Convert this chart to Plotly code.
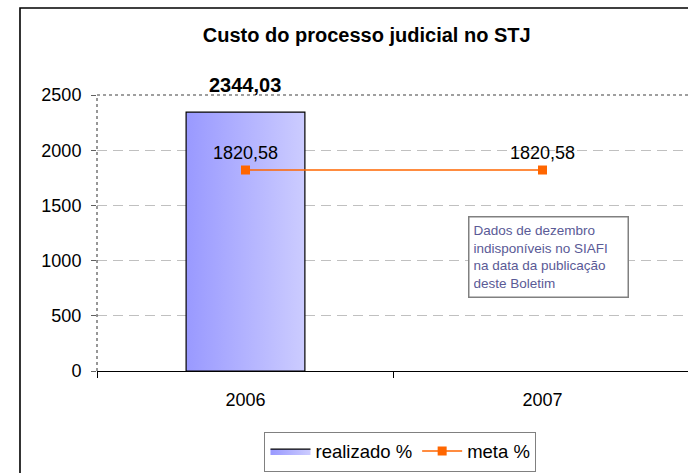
import plotly.graph_objects as go

years = ["2006", "2007"]
realizado = [2344.03, None]
meta = [1820.58, 1820.58]
y_ticks = [0, 500, 1000, 1500, 2000, 2500]

BAR_W = 0.4
FONT = "Liberation Sans, Arial, sans-serif"

def br(v):
    return f"{v:.2f}".replace(".", ",")

idx = list(range(len(years)))

# Bar polygons (gradient-filled), built from the data values
bx, by = [], []
for i, v in zip(idx, realizado):
    if v is None:
        continue
    x0, x1 = i - BAR_W / 2, i + BAR_W / 2
    bx += [x0, x0, x1, x1, x0, None]
    by += [0, v, v, 0, 0, None]

fig = go.Figure()
fig.add_trace(go.Scatter(
    x=bx, y=by, mode="lines", fill="toself", name="realizado %",
    line=dict(color="#000000", width=1.2),
    fillgradient=dict(type="horizontal", colorscale=[[0, "#9999ff"], [1, "#ccccff"]]),
    hoverinfo="skip",
))
fig.add_trace(go.Scatter(
    x=idx, y=meta, mode="lines+markers+text", name="meta %",
    line=dict(color="#ff6600", width=1.5),
    marker=dict(symbol="square", size=9, color="#ff6600"),
    text=[br(v) for v in meta], textposition="top center",
    textfont=dict(family=FONT, size=18, color="#000000"),
))

for i, v in zip(idx, realizado):
    if v is None:
        continue
    fig.add_annotation(x=i, y=v, text=f"<b>{br(v)}</b>", showarrow=False,
                       yanchor="bottom", yshift=14,
                       font=dict(family=FONT, size=20, color="#000000"))

fig.add_annotation(
    xref="paper", yref="paper", x=(468 - 97) / 591, y=(371 - 216) / 276,
    xanchor="left", yanchor="top",
    text="Dados de dezembro<br>indisponíveis no SIAFI<br>na data da publicação<br>deste Boletim",
    showarrow=False, align="left", width=150, height=71, borderpad=4,
    bordercolor="#808080", borderwidth=1.5, bgcolor="#ffffff",
    font=dict(family=FONT, size=13.5, color="#5a5a96"),
)

shapes = [
    dict(type="rect", xref="paper", yref="paper", x0=-0.1303, x1=1.2, y0=-1, y1=1.3152,
         line=dict(color="#000000", width=1.6)),
    dict(type="line", xref="paper", yref="paper", x0=0, x1=1, y0=1, y1=1,
         line=dict(color="#808080", width=1.3, dash="dot")),
    dict(type="line", xref="paper", yref="paper", x0=0, x1=0, y0=0, y1=1,
         line=dict(color="#606060", width=1.3, dash="dot")),
]

fig.update_layout(
    width=688, height=473,
    margin=dict(l=97, r=0, t=95, b=102),
    paper_bgcolor="#ffffff", plot_bgcolor="#ffffff",
    font=dict(family=FONT, size=18, color="#000000"),
    title=dict(text="<b>Custo do processo judicial no STJ</b>", x=0.533, xanchor="center",
               y=0.926, yanchor="middle", font=dict(family=FONT, size=20, color="#000000")),
    showlegend=True,
    legend=dict(orientation="h", x=0.5135, y=-0.2917, xanchor="center", yanchor="middle",
                bordercolor="#808080", borderwidth=1, bgcolor="#ffffff",
                font=dict(family=FONT, size=18.5, color="#000000"), itemwidth=40),
    shapes=shapes,
    xaxis=dict(range=[-0.5, 1.49], tickvals=idx, ticktext=years, ticks="",
               showgrid=False, zeroline=False, showline=True, linecolor="#000000", linewidth=1,
               ticklabelstandoff=12,
               minor=dict(tick0=-0.5, dtick=1, ticks="outside", ticklen=6, tickcolor="#000000",
                          showgrid=False),
               tickfont=dict(family=FONT, size=18, color="#000000")),
    yaxis=dict(range=[0, 2500], tickvals=y_ticks, ticks="outside", ticklen=5, tickcolor="#606060",
               showgrid=True, gridcolor="#c0c0c0", griddash="10px,6px", gridwidth=1,
               zeroline=False, showline=False, ticklabelstandoff=6,
               tickfont=dict(family=FONT, size=18, color="#000000")),
)

fig.write_html("out.html", config={"displayModeBar": False},
               post_script="document.body.style.margin='0';document.body.style.overflow='hidden';")
